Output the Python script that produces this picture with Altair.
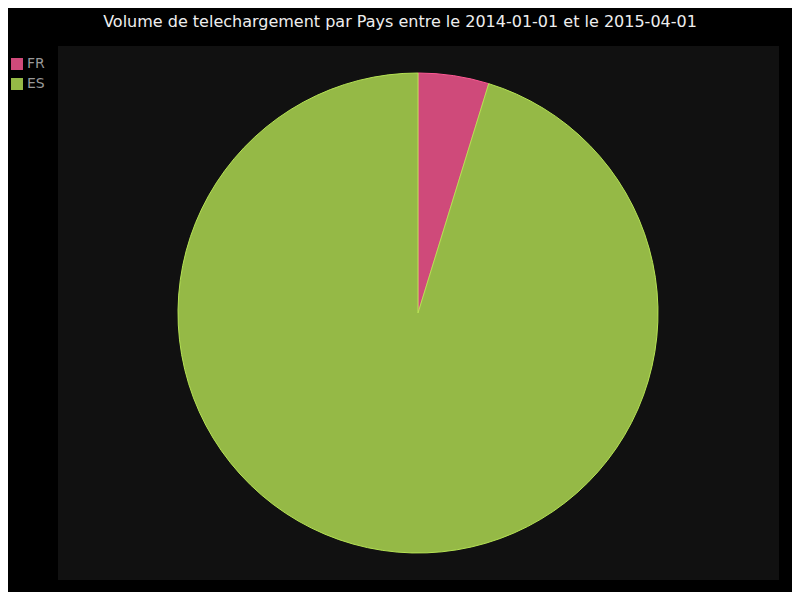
import altair as alt
import pandas as pd

countries = ["FR", "ES"]
volumes = [1, 20]
order_idx = [0, 1]
fill_colors = ["#cf4a7a", "#95b946"]
stroke_colors = ["#ff5995", "#b6e354"]
title_text = "Volume de telechargement par Pays entre le 2014-01-01 et le 2015-04-01"

df = pd.DataFrame({"pays": countries, "volume": volumes, "ordre": order_idx})

plot_bg = alt.Chart(pd.DataFrame({"a": [0]})).mark_rect(color="#111111").encode(
    x=alt.value(50), x2=alt.value(771), y=alt.value(38), y2=alt.value(572)
)

pie = alt.Chart(df).mark_arc(outerRadius=240, strokeWidth=1).encode(
    theta=alt.Theta("volume:Q", stack=True),
    order=alt.Order("ordre:Q"),
    fill=alt.Fill(
        "pays:N",
        scale=alt.Scale(domain=countries, range=fill_colors),
        legend=alt.Legend(
            title=None, orient="none", legendX=2, legendY=49,
            symbolType="square", symbolSize=144, symbolStrokeWidth=0,
            labelFontSize=14, labelColor="#999999", labelFont="DejaVu Sans",
            rowPadding=6, labelOffset=3, padding=0, symbolOpacity=1,
        ),
    ),
    stroke=alt.Stroke("pays:N", scale=alt.Scale(domain=countries, range=stroke_colors), legend=None),
    x=alt.value(410),
    y=alt.value(305),
)

title = alt.Chart(pd.DataFrame({"t": [title_text]})).mark_text(
    fontSize=16, font="DejaVu Sans", color="#eeeeee", align="center", baseline="alphabetic"
).encode(text="t:N", x=alt.value(392), y=alt.value(19))

chart = alt.layer(plot_bg, pie, title).properties(
    width=784, height=584, autosize=alt.AutoSizeParams(type="none"), padding=0, background="black"
).configure_view(stroke=None)

chart.save("out.html", embed_options={"renderer": "svg", "actions": False})
